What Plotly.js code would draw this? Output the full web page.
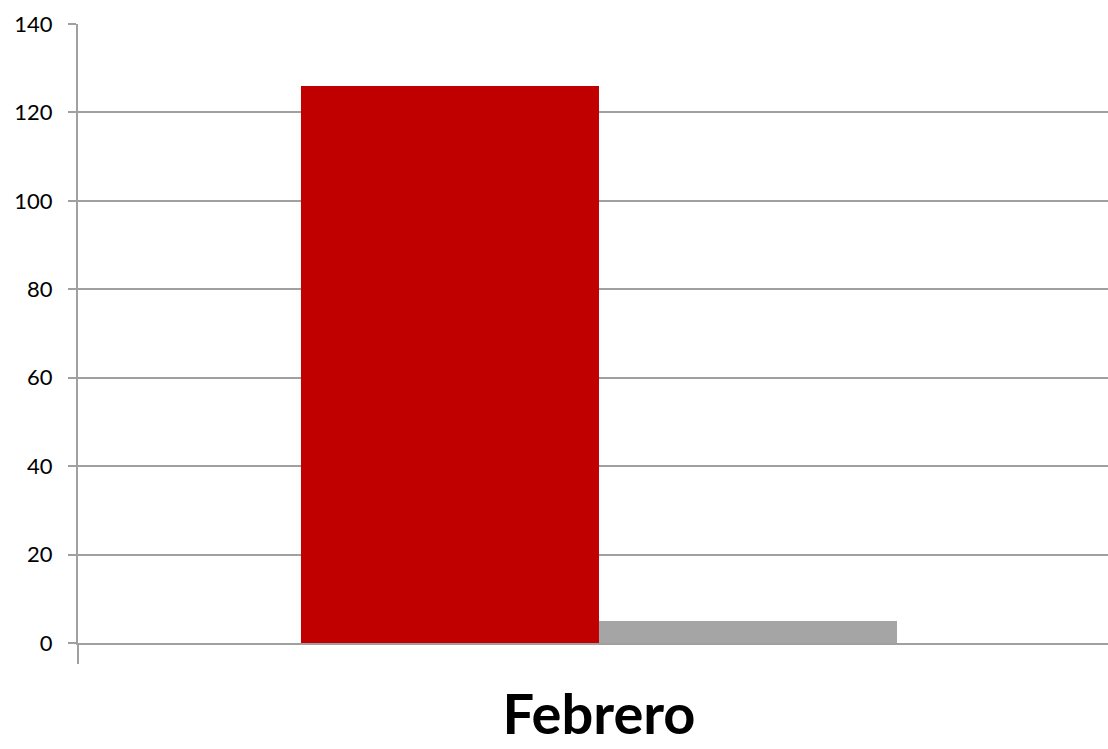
<!DOCTYPE html>
<html>
<head>
<meta charset="utf-8">
<script src="https://cdn.plot.ly/plotly-3.0.1.min.js"></script>
<style>html,body{margin:0;padding:0;background:#fff;}#chart{width:1108px;height:749px;}</style>
</head>
<body>
<div id="chart"></div>
<script>
var categories = ['Febrero'];
var series1 = [126];
var series2 = [5];
var yTicks = [0, 20, 40, 60, 80, 100, 120, 140];

var gridColor = '#a0a0a0';
var traces = [
  {type: 'bar', x: categories, y: series1, marker: {color: '#C00000'}, hoverinfo: 'y'},
  {type: 'bar', x: categories, y: series2, marker: {color: '#A5A5A5'}, hoverinfo: 'y'}
];
var layout = {
  width: 1108, height: 749,
  margin: {l: 78, r: 0, t: 24, b: 106},
  paper_bgcolor: '#fff', plot_bgcolor: '#fff',
  showlegend: false,
  barmode: 'group', bargap: 0.428, bargroupgap: 0,
  font: {family: 'Lato, Carlito, Calibri, sans-serif', color: '#000'},
  xaxis: {
    type: 'category', range: [-0.5, 0.4885], fixedrange: true,
    showgrid: false, showline: true, linecolor: gridColor, linewidth: 2,
    ticks: 'outside', tickson: 'boundaries', ticklen: 19, tickcolor: gridColor, tickwidth: 2,
    tickfont: {size: 56, family: 'Lato, Carlito, Calibri, sans-serif', weight: 'bold'},
    ticklabelstandoff: 22
  },
  yaxis: {
    range: [0, 140], tickvals: yTicks, ticktext: yTicks.map(String), fixedrange: true,
    showgrid: true, gridcolor: gridColor, gridwidth: 2, zeroline: false,
    showline: true, linecolor: gridColor, linewidth: 2,
    ticks: 'outside', ticklen: 8, tickcolor: gridColor, tickwidth: 2,
    tickfont: {size: 22}, ticklabelstandoff: 11
  }
};
Plotly.newPlot('chart', traces, layout, {displayModeBar: false, staticPlot: true});
</script>
</body>
</html>
